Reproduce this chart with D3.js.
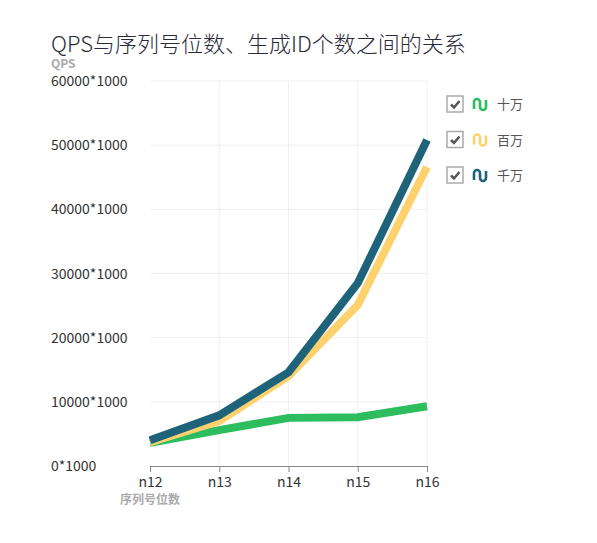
<!DOCTYPE html>
<html>
<head>
<meta charset="utf-8">
<script src="https://cdn.jsdelivr.net/npm/d3@7"></script>
<style>
  body { margin: 0; background: #fff; }
  svg { font-family: "Noto Sans CJK SC", "Noto Sans", sans-serif; }
</style>
</head>
<body>
<svg id="chart" width="597" height="543"></svg>
<script>
// data
const categories = ["n12", "n13", "n14", "n15", "n16"];
const seriesNames = ["十万", "百万", "千万"];
const shiWan = [3600, 5600, 7500, 7600, 9300];
const baiWan = [3700, 7000, 14000, 25100, 46600];
const qianWan = [4000, 7900, 14600, 28500, 50800];
const yTicks = [0, 10000, 20000, 30000, 40000, 50000, 60000];

const series = [
  { name: seriesNames[0], values: shiWan, color: "#2dbd5e" },
  { name: seriesNames[1], values: baiWan, color: "#fdd26e" },
  { name: seriesNames[2], values: qianWan, color: "#1f637a" }
];

const svg = d3.select("#chart");

// plot box
const plotL = 150, plotR = 427, plotT = 81, plotB = 466;

const x = d3.scalePoint().domain(categories).range([plotL, plotR]);
const y = d3.scaleLinear().domain([0, 60000]).range([plotB, plotT]);

// title
svg.append("text")
  .attr("x", 51).attr("y", 52)
  .attr("font-size", 22).attr("font-weight", 300)
  .attr("fill", "#2a2a3a")
  .text("QPS与序列号位数、生成ID个数之间的关系");

// y axis name
svg.append("text")
  .attr("x", 51).attr("y", 68)
  .attr("font-size", 12).attr("font-weight", "bold")
  .attr("fill", "#aaa")
  .text("QPS");

// grid
svg.append("g").selectAll("line")
  .data(yTicks.slice(1))
  .join("line")
  .attr("x1", plotL).attr("x2", plotR)
  .attr("y1", d => y(d)).attr("y2", d => y(d))
  .attr("stroke", "#f0f0f0").attr("stroke-width", 1);

svg.append("g").selectAll("line")
  .data(categories.slice(1))
  .join("line")
  .attr("x1", d => x(d)).attr("x2", d => x(d))
  .attr("y1", plotT).attr("y2", plotB)
  .attr("stroke", "#f0f0f0").attr("stroke-width", 1);

// y tick labels (left aligned)
svg.append("g").selectAll("text")
  .data(yTicks)
  .join("text")
  .attr("x", 51).attr("y", d => y(d) + 5)
  .attr("font-size", 14).attr("fill", "#333")
  .text(d => d + "*1000");

// x axis
const xAxis = svg.append("g")
  .attr("transform", `translate(0,${plotB})`)
  .call(d3.axisBottom(x).tickSizeOuter(0).tickSize(6).tickPadding(5));
xAxis.select(".domain").attr("stroke", "#888");
xAxis.selectAll(".tick line").attr("stroke", "#888");
xAxis.selectAll(".tick text")
  .attr("font-size", 14).attr("fill", "#333")
  .attr("font-family", "\"Noto Sans CJK SC\", sans-serif");

svg.append("text")
  .attr("x", 150).attr("y", 504)
  .attr("text-anchor", "middle")
  .attr("font-size", 12).attr("font-weight", "bold")
  .attr("fill", "#aaa")
  .text("序列号位数");

// lines
const line = d3.line()
  .x((d, i) => x(categories[i]))
  .y(d => y(d));

svg.append("g").selectAll("path")
  .data(series)
  .join("path")
  .attr("d", d => line(d.values))
  .attr("fill", "none")
  .attr("stroke", d => d.color)
  .attr("stroke-width", 8)
  .attr("stroke-linejoin", "miter");

// legend
const legend = svg.append("g").selectAll("g")
  .data(series)
  .join("g")
  .attr("transform", (d, i) => `translate(447,${96 + i * 35.5})`);

legend.append("rect")
  .attr("width", 16).attr("height", 16)
  .attr("fill", "#fff").attr("stroke", "#aaa").attr("stroke-width", 1.5);

legend.append("path")
  .attr("d", "M4,8.5 L7,11.5 L12.5,5")
  .attr("fill", "none").attr("stroke", "#555").attr("stroke-width", 2.5);

legend.append("path")
  .attr("d", "M27,13 L27,6 A3,3 0 0 1 33,6 L33,11 A3,3 0 0 0 39,11 L39,4")
  .attr("fill", "none")
  .attr("stroke", d => d.color)
  .attr("stroke-width", 2.6);

legend.append("text")
  .attr("x", 50).attr("y", 13)
  .attr("font-size", 13).attr("fill", "#555")
  .text(d => d.name);
</script>
</body>
</html>
